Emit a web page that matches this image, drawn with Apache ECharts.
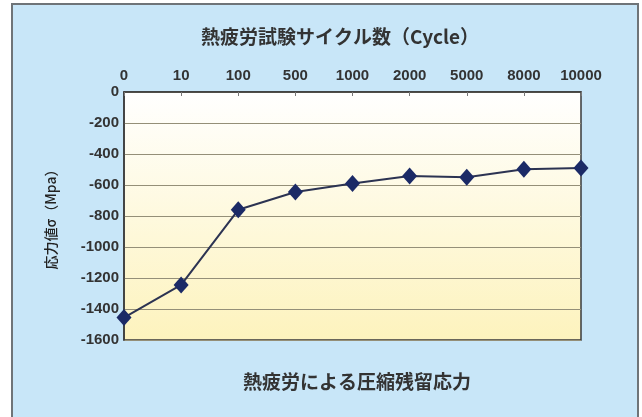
<!DOCTYPE html>
<html>
<head>
<meta charset="utf-8">
<script src="https://cdn.jsdelivr.net/npm/echarts@6/dist/echarts.min.js"></script>
<style>
  html, body { margin: 0; padding: 0; background: #fff; }
  #chart { width: 642px; height: 417px; }
</style>
</head>
<body>
<div id="chart"></div>
<script>
var cycles = ['0', '10', '100', '500', '1000', '2000', '5000', '8000', '10000'];
var stress = [-1455, -1245, -760, -645, -590, -542, -550, -498, -490];

var numFont = 'Arial, "Liberation Sans", Helvetica, sans-serif';
var chart = echarts.init(document.getElementById('chart'));

var option = {
    backgroundColor: '#fff',
    animation: false,
    graphic: [{
        type: 'rect',
        z: -10,
        shape: { x: 12, y: 4, width: 626, height: 430 },
        style: { fill: '#c8e6f8', stroke: '#6f7478', lineWidth: 2 }
    }],
    title: [{
        text: '熱疲労試験サイクル数（Cycle）',
        left: 335,
        top: 22,
        textAlign: 'center',
        textStyle: { fontFamily: 'Noto Sans CJK JP', fontSize: 19, fontWeight: 'bold', color: '#333' }
    }, {
        text: '熱疲労による圧縮残留応力',
        left: 352,
        top: 367,
        textAlign: 'center',
        textStyle: { fontFamily: 'Noto Sans CJK JP', fontSize: 19, fontWeight: 'bold', color: '#333' }
    }],
    grid: {
        left: 124,
        right: 61,
        top: 92,
        bottom: 77,
        show: true,
        borderColor: '#3a3a3a',
        borderWidth: 1.5,
        backgroundColor: new echarts.graphic.LinearGradient(0, 0, 0, 1, [
            { offset: 0, color: '#ffffff' },
            { offset: 1, color: '#fdf3bd' }
        ])
    },
    xAxis: {
        type: 'category',
        position: 'top',
        data: cycles,
        boundaryGap: false,
        axisLine: { lineStyle: { color: '#3a3a3a', width: 1.5 } },
        axisTick: { inside: true, length: 4, lineStyle: { color: '#777' } },
        axisLabel: { margin: 9, fontFamily: numFont, fontSize: 15, fontWeight: 'bold', color: '#333' }
    },
    yAxis: {
        type: 'value',
        min: -1600,
        max: 0,
        interval: 200,
        name: '応力値σ（Mpa）',
        nameLocation: 'middle',
        nameGap: 66,
        nameTextStyle: { fontFamily: 'Noto Sans CJK JP', fontSize: 14, fontWeight: 500, color: '#222' },
        axisLine: { show: true, lineStyle: { color: '#3a3a3a', width: 1.5 } },
        axisTick: { show: false },
        axisLabel: {
            margin: 5,
            fontFamily: numFont,
            fontSize: 15,
            fontWeight: 'bold',
            color: '#333',
            formatter: function (v) { return String(v); }
        },
        splitLine: { lineStyle: { color: '#948f78', width: 1 } }
    },
    series: [{
        type: 'line',
        data: stress,
        symbol: 'diamond',
        symbolSize: [15, 17],
        itemStyle: { color: '#1b2a66' },
        lineStyle: { color: '#2c3352', width: 2 }
    }]
};

chart.setOption(option);
</script>
</body>
</html>
